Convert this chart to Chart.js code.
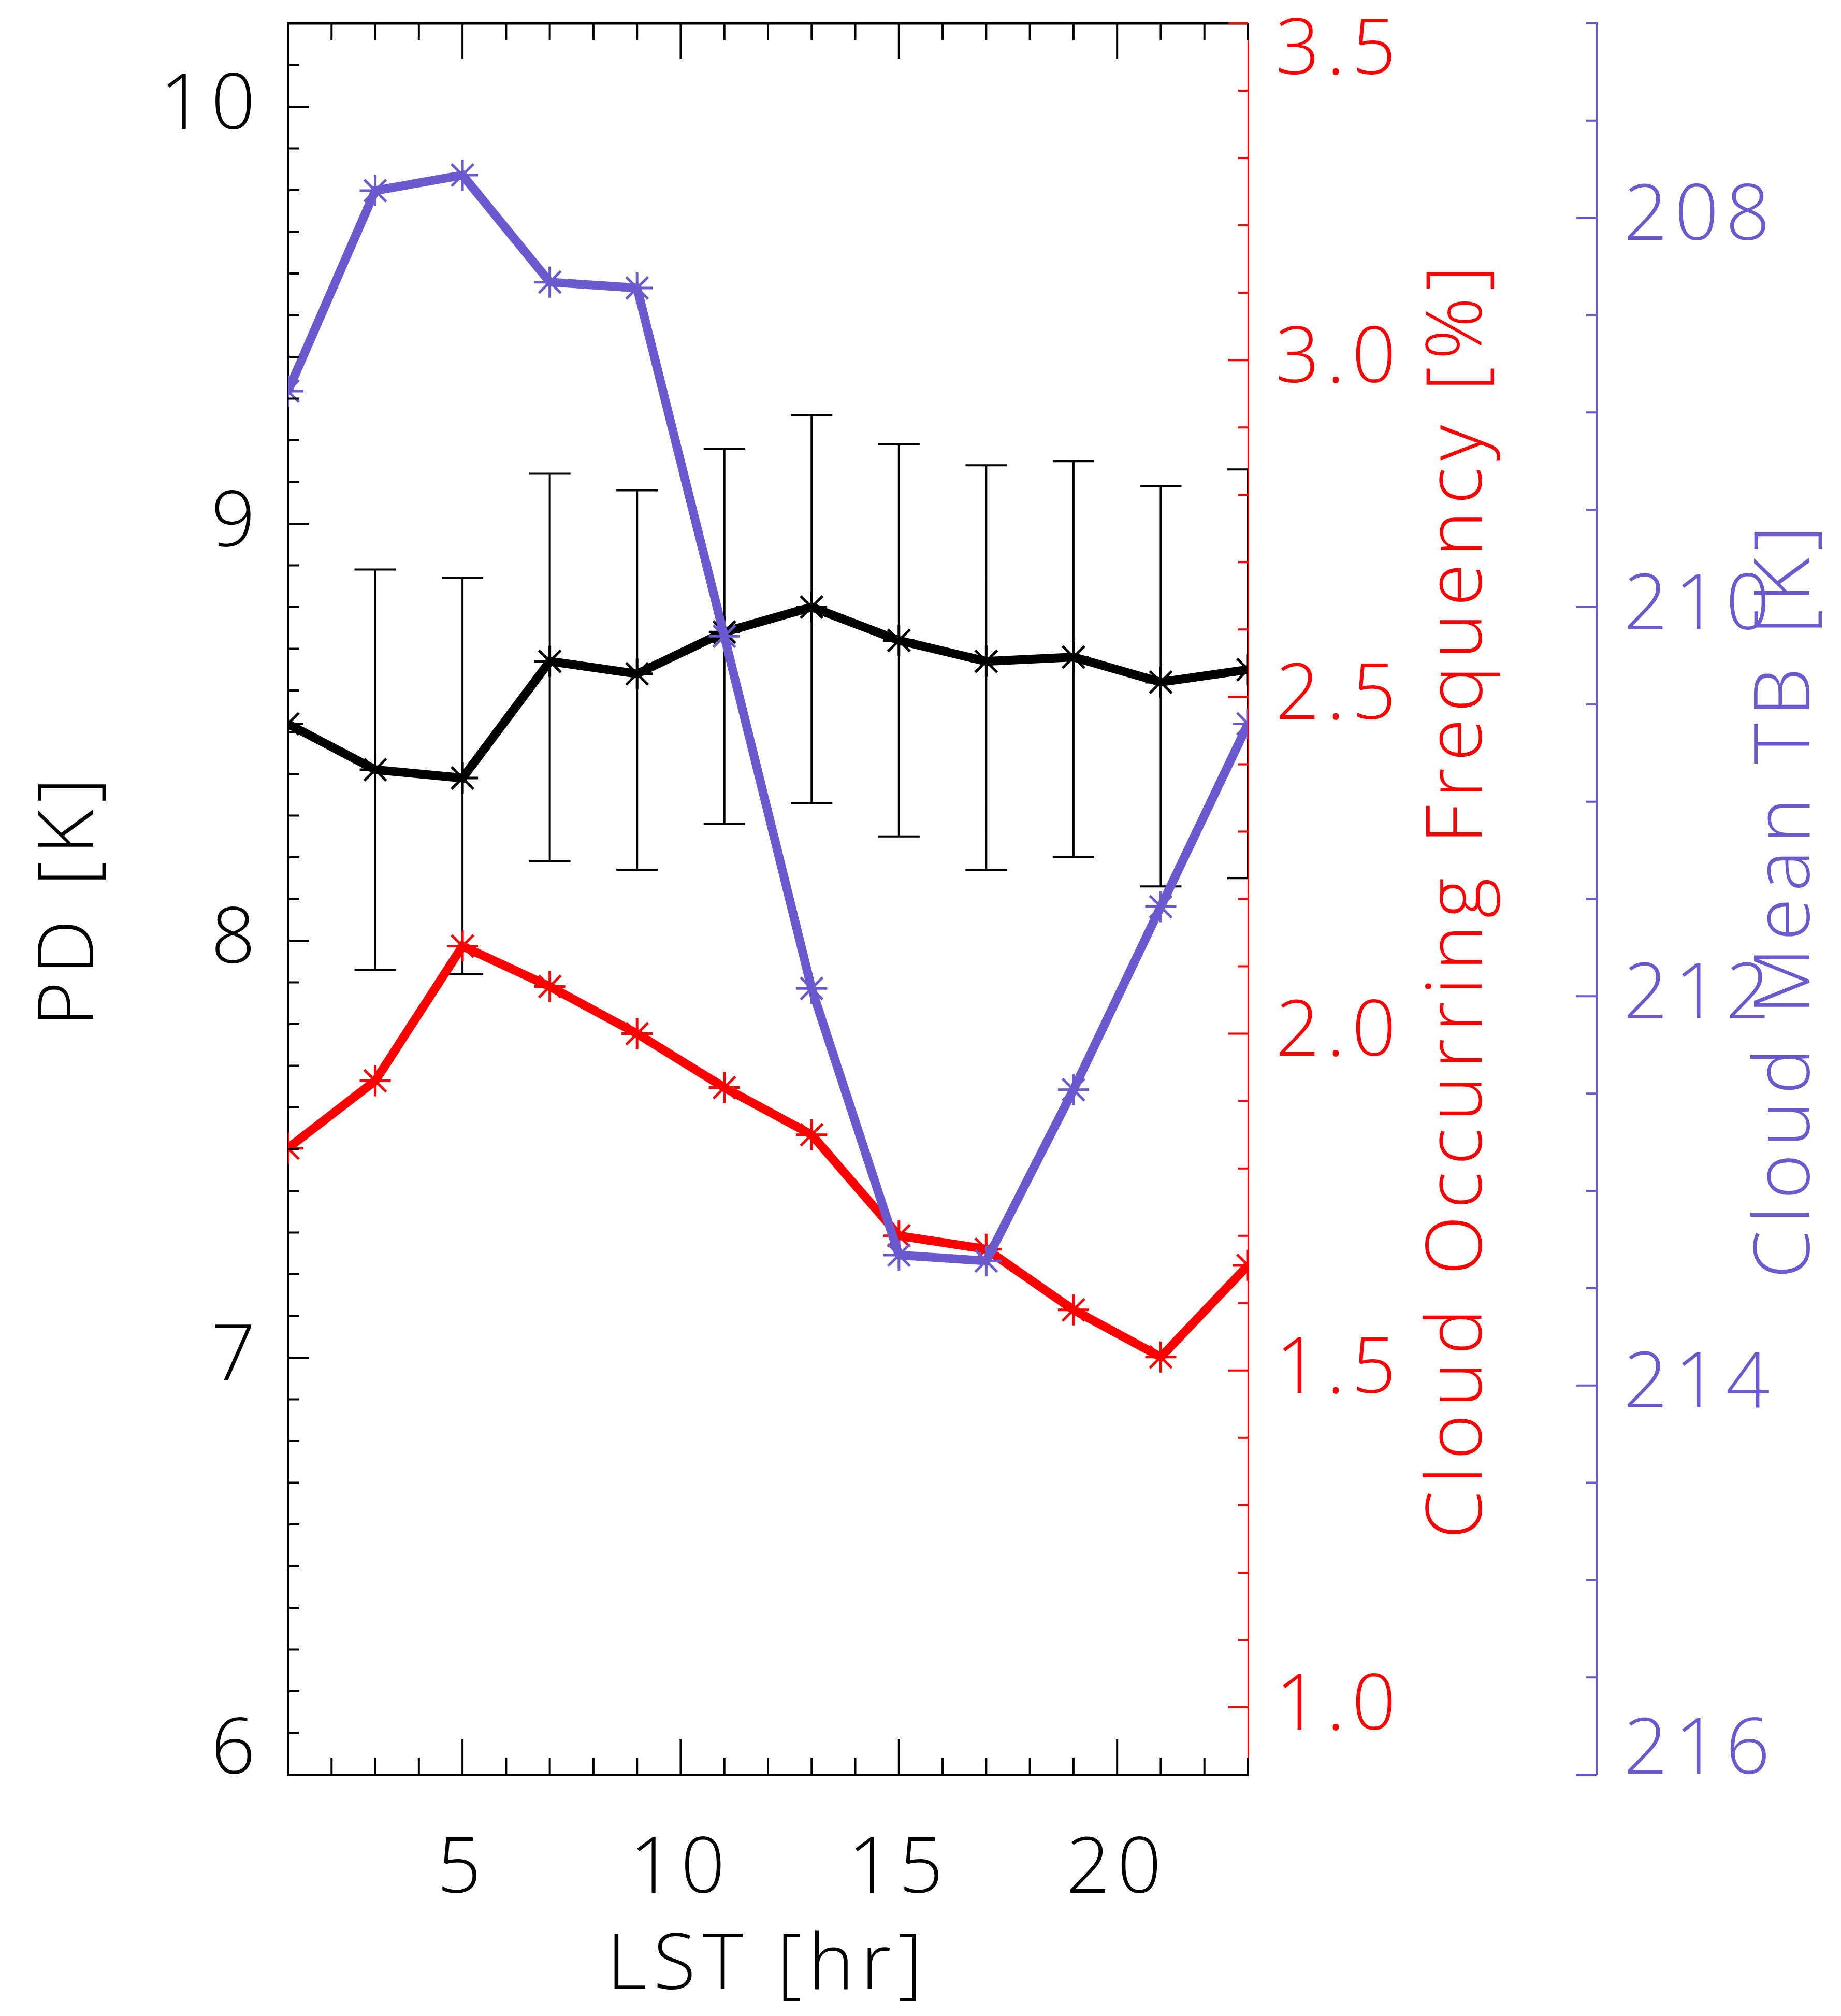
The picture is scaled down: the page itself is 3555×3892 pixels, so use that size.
<!DOCTYPE html>
<html>
<head>
<meta charset="utf-8">
<script src="https://cdn.jsdelivr.net/npm/chart.js@4/dist/chart.umd.min.js"></script>
<style>
  html, body { margin: 0; padding: 0; background: #fff; overflow: hidden; }
  #wrap { width: 3555px; height: 3892px; }
</style>
</head>
<body>
<div id="wrap"><canvas id="myChart" width="3555" height="3892"></canvas></div>
<script>
// local solar time of each bin
const lst = [1, 3, 5, 7, 9, 11, 13, 15, 17, 19, 21, 23];
// PD [K] with its error bar ends (no bar visible at 1 LST)
const pd     = [8.52, 8.41, 8.39, 8.67, 8.64, 8.74, 8.80, 8.72, 8.67, 8.68, 8.62, 8.65];
const pdHigh = [null, 8.89, 8.87, 9.12, 9.08, 9.18, 9.26, 9.19, 9.14, 9.15, 9.09, 9.13];
const pdLow  = [null, 7.93, 7.92, 8.19, 8.17, 8.28, 8.33, 8.25, 8.17, 8.20, 8.13, 8.15];
// cloud occurring frequency [%]
const cloudFreq = [1.83, 1.93, 2.13, 2.07, 2.00, 1.92, 1.85, 1.70, 1.68, 1.59, 1.52, 1.656];
// cloud mean TB [K]
const cloudTb = [208.89, 207.86, 207.78, 208.33, 208.36, 210.15, 211.96, 213.33, 213.36, 212.48, 211.54, 210.60];

const lstTicks = [5, 10, 15, 20];
const pdTicks = [6, 7, 8, 9, 10];
const freqTicks = [1.0, 1.5, 2.0, 2.5, 3.0, 3.5];
const tbTicks = [208, 210, 212, 214, 216];

const panelTitle = '(a)';
const xTitle = 'LST [hr]';
const pdTitle = 'PD [K]';
const freqTitle = 'Cloud Occurring Frequency [%]';
const tbTitle = 'Cloud Mean TB [K]';

const red = '#ff0000';
const blue = '#6a5acd';
const fam = "'Open Sans', 'DejaVu Sans', sans-serif";
const fsize = 150;
const fnt = {family: fam, size: fsize, weight: '300'};

function toXY(vals){
    return lst.map((h, i) => ({x: h, y: vals[i]}));
}

function fixTicks(list){
    return function(scale){
        scale.ticks = list.map(v => ({value: v}));
    }
}

// the original lettering is set wider than Open Sans
const spacing = {
    id: 'spacing',
    beforeDraw(chart){
        chart.ctx.letterSpacing = '13px';
    }
};

// error bars under the lines
const errorBars = {
    id: 'errorBars',
    beforeDatasetsDraw(chart){
        const {ctx, chartArea: a, scales} = chart;
        ctx.save();
        ctx.beginPath();
        ctx.rect(a.left, a.top, a.right - a.left, a.bottom - a.top);
        ctx.clip();
        ctx.strokeStyle = '#000';
        ctx.lineWidth = 4;
        ctx.beginPath();
        for (let i = 0; i < lst.length; i++) {
            if (pdHigh[i] == null) continue;
            const px = scales.x.getPixelForValue(lst[i]);
            const top = scales.y.getPixelForValue(pdHigh[i]);
            const bot = scales.y.getPixelForValue(pdLow[i]);
            ctx.moveTo(px, top); ctx.lineTo(px, bot);
            ctx.moveTo(px - 40, top); ctx.lineTo(px + 40, top);
            ctx.moveTo(px - 40, bot); ctx.lineTo(px + 40, bot);
        }
        ctx.stroke();
        ctx.restore();
    }
};

// inward tick marks (major + minor), top frame line, side titles
const frame = {
    id: 'frame',
    afterDraw(chart){
        const {ctx, chartArea: a, scales} = chart;
        ctx.save();
        ctx.lineCap = 'butt';

        ctx.strokeStyle = '#000';
        ctx.lineWidth = 4;
        ctx.beginPath();
        for (let v = 1; v <= 23; v++) {
            const px = scales.x.getPixelForValue(v);
            const len = v % 5 === 0 ? 68 : 33;
            ctx.moveTo(px, a.bottom); ctx.lineTo(px, a.bottom - len);
            ctx.moveTo(px, a.top); ctx.lineTo(px, a.top + len);
        }
        for (let i = 60; i <= 102; i++) {
            const py = scales.y.getPixelForValue(i / 10);
            const len = i % 10 === 0 ? 40 : 22;
            ctx.moveTo(a.left, py); ctx.lineTo(a.left + len, py);
        }
        ctx.stroke();

        ctx.lineWidth = 5;
        ctx.beginPath();
        ctx.moveTo(a.left - 2, a.top);
        ctx.lineTo(a.right, a.top);
        ctx.stroke();

        ctx.strokeStyle = red;
        ctx.lineWidth = 4;
        ctx.beginPath();
        for (let i = 10; i <= 35; i++) {
            const py = scales.yFreq.getPixelForValue(i / 10);
            const len = i % 5 === 0 ? 38 : 19;
            ctx.moveTo(a.right, py); ctx.lineTo(a.right - len, py);
        }
        ctx.stroke();

        const b = scales.yTb;
        ctx.strokeStyle = blue;
        ctx.beginPath();
        for (let i = 414; i <= 432; i++) {
            const py = b.getPixelForValue(i / 2);
            const len = i % 4 === 0 ? 40 : 20;
            ctx.moveTo(b.left, py); ctx.lineTo(b.left - len, py);
        }
        ctx.stroke();

        const mid = (a.top + a.bottom) / 2;
        ctx.font = '300 ' + fsize + 'px ' + fam;
        ctx.textAlign = 'center';
        ctx.textBaseline = 'middle';
        [[scales.yFreq.left + 408, red, freqTitle], [b.left + 368, blue, tbTitle]].forEach(t => {
            ctx.save();
            ctx.translate(t[0], mid);
            ctx.rotate(-Math.PI / 2);
            ctx.fillStyle = t[1];
            ctx.fillText(t[2], 0, 0);
            ctx.restore();
        });

        // panel label, mostly cut off by the top edge
        ctx.fillStyle = '#000';
        ctx.textBaseline = 'alphabetic';
        ctx.fillText(panelTitle, 1090, -28);
        ctx.restore();
    }
};

const ctx = document.getElementById('myChart');

const myChart = new Chart(ctx, {
    type: 'line',
    data: {
        datasets: [{
            label: tbTitle,
            data: toXY(cloudTb),
            yAxisID: 'yTb',
            borderColor: blue,
            pointBorderColor: blue,
            pointBackgroundColor: blue
        }, {
            label: pdTitle,
            data: toXY(pd),
            yAxisID: 'y',
            borderColor: '#000',
            pointBorderColor: '#000',
            pointBackgroundColor: '#000'
        }, {
            label: freqTitle,
            data: toXY(cloudFreq),
            yAxisID: 'yFreq',
            borderColor: red,
            pointBorderColor: red,
            pointBackgroundColor: red
        }]
    },
    options: {
        responsive: false,
        animation: false,
        devicePixelRatio: 1,
        layout: {padding: {top: 45, left: 0, right: 0, bottom: 0}, autoPadding: false},
        datasets: {
            line: {
                borderWidth: 17,
                pointStyle: 'star',
                pointRadius: 30,
                pointBorderWidth: 5,
                tension: 0,
                clip: 0
            }
        },
        plugins: {
            legend: {display: false},
            tooltip: {enabled: false}
        },
        scales: {
            x: {
                type: 'linear',
                position: 'bottom',
                min: 1,
                max: 23,
                afterBuildTicks: fixTicks(lstTicks),
                afterFit: s => { s.height = 466; s.paddingLeft = 0; s.paddingRight = 0; },
                grid: {display: false, drawTicks: false},
                border: {display: true, color: '#000', width: 5},
                ticks: {font: fnt, color: '#000', padding: 95, maxRotation: 0, autoSkip: false},
                title: {display: true, text: xTitle, font: fnt, color: '#000', padding: {top: 0, bottom: 5}}
            },
            y: {
                type: 'linear',
                position: 'left',
                min: 6,
                max: 10.2,
                afterBuildTicks: fixTicks(pdTicks),
                afterFit: s => { s.width = 556; s.paddingTop = 0; s.paddingBottom = 0; },
                grid: {display: false, drawTicks: false},
                border: {display: true, color: '#000', width: 5},
                ticks: {
                    color: '#000',
                    padding: 50,
                    autoSkip: false,
                    font: c => Object.assign({}, fnt, {lineHeight: c.tick && c.tick.value === 6 ? '90px' : 1.2}),
                    callback: v => v === 6 ? ['6', ''] : String(v)
                },
                title: {display: true, text: pdTitle, font: fnt, color: '#000', padding: {top: 47, bottom: 0}}
            },
            yFreq: {
                type: 'linear',
                position: 'right',
                weight: 0,
                min: 0.9,
                max: 3.5,
                afterBuildTicks: fixTicks(freqTicks),
                afterFit: s => { s.width = 673; s.paddingTop = 0; s.paddingBottom = 0; },
                grid: {display: false, drawTicks: false},
                border: {display: true, color: red, width: 3},
                ticks: {
                    color: red,
                    padding: 53,
                    autoSkip: false,
                    font: c => Object.assign({}, fnt, {lineHeight: c.tick && c.tick.value === 3.5 ? '110px' : 1.2}),
                    callback: v => v === 3.5 ? ['', '3.5'] : v.toFixed(1)
                }
            },
            yTb: {
                type: 'linear',
                position: 'right',
                weight: 1,
                min: 207,
                max: 216,
                reverse: true,
                afterBuildTicks: fixTicks(tbTicks),
                afterFit: s => { s.width = 472; s.paddingTop = 0; s.paddingBottom = 0; },
                grid: {display: false, drawTicks: false},
                border: {display: true, color: blue, width: 4},
                ticks: {
                    color: blue,
                    padding: 52,
                    autoSkip: false,
                    font: c => Object.assign({}, fnt, {lineHeight: c.tick && c.tick.value === 216 ? '90px' : 1.2}),
                    callback: v => v === 216 ? ['216', ''] : String(v)
                }
            }
        }
    },
    plugins: [spacing, errorBars, frame]
});
</script>
</body>
</html>
